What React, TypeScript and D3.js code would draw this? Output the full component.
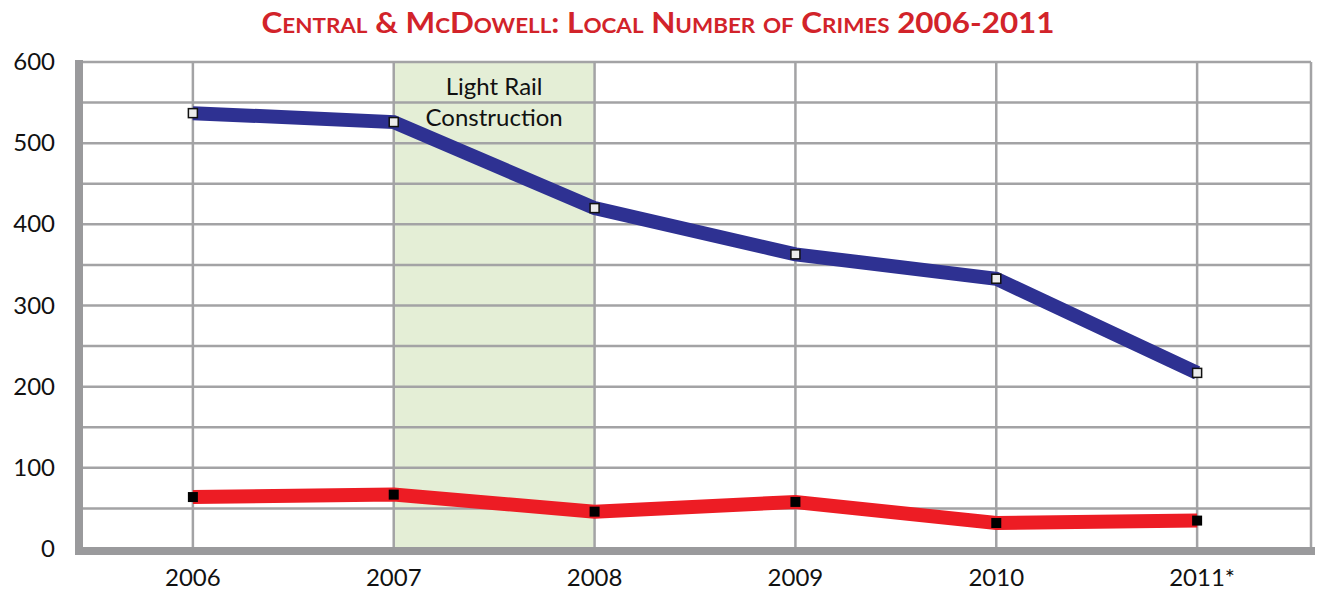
import React from 'react';
import * as d3 from 'd3';

const years = ['2006', '2007', '2008', '2009', '2010', '2011*'];
const totalCrimes = [537, 526, 420, 363, 333, 217];
const localCrimes = [64, 67, 46, 58, 32, 35];
const yTicks = [0, 100, 200, 300, 400, 500, 600];
const gridValues = [50, 100, 150, 200, 250, 300, 350, 400, 450, 500, 550, 600];
const shadeFrom = '2007';
const shadeTo = '2008';
const shadeLabel = ['Light Rail', 'Construction'];
const title = 'Central & McDowell: Local Number of Crimes 2006-2011';

const W = 1319;
const H = 592;
const left = 79;
const right = 1311;
const top = 62;
const bottom = 549;

const GRID = '#a3a3a5';
const AXIS = '#9a9a9c';
const FONT = 'Lato, "Open Sans", sans-serif';

export default function App() {
  const x = d3.scalePoint<string>().domain(years).range([left, right]).padding(0.567);
  const y = d3.scaleLinear().domain([0, 600]).range([bottom, top]);

  const line = d3.line<number>()
    .x((_, i) => x(years[i]) as number)
    .y(d => y(d));

  const shadeX0 = x(shadeFrom) as number;
  const shadeX1 = x(shadeTo) as number;

  return (
    <div style={{ position: 'absolute', left: 0, top: 0 }}>
      <svg width={W} height={H} style={{ display: 'block', background: '#fff' }}>
        <text
          x={658}
          y={33}
          textAnchor="middle"
          fill="#d2232a"
          fontFamily={FONT}
          fontWeight="bold"
          fontSize={28}
          style={{ fontVariant: 'small-caps' }}
          textLength={793}
          lengthAdjust="spacingAndGlyphs"
        >
          {title}
        </text>

        {/* shaded construction period */}
        <rect x={shadeX0} y={top} width={shadeX1 - shadeX0} height={bottom - top} fill="#e4eed6" />

        {/* grid */}
        {gridValues.map(v => (
          <line key={'h' + v} x1={left} x2={right} y1={y(v)} y2={y(v)} stroke={GRID} strokeWidth={2.5} />
        ))}
        {years.map(yr => (
          <line key={'v' + yr} x1={x(yr)} x2={x(yr)} y1={top} y2={bottom} stroke={GRID} strokeWidth={2.5} />
        ))}
        <line x1={right} x2={right} y1={top} y2={bottom} stroke={GRID} strokeWidth={2.5} />

        {/* annotation */}
        {shadeLabel.map((t, i) => (
          <text
            key={t}
            x={(shadeX0 + shadeX1) / 2}
            y={95 + i * 31}
            textAnchor="middle"
            fontFamily={FONT}
            fontSize={24}
            fill="#111"
          >
            {t}
          </text>
        ))}

        {/* axes */}
        <line x1={left} x2={left} y1={60} y2={555} stroke={AXIS} strokeWidth={8} />
        <line x1={75} x2={1315} y1={551} y2={551} stroke={AXIS} strokeWidth={8} />

        {/* series */}
        <path d={line(totalCrimes) || ''} fill="none" stroke="#2e3192" strokeWidth={14} />
        <path d={line(localCrimes) || ''} fill="none" stroke="#ed1c24" strokeWidth={14} />

        {totalCrimes.map((v, i) => (
          <rect
            key={'t' + i}
            x={(x(years[i]) as number) - 4.5}
            y={y(v) - 4.5}
            width={9}
            height={9}
            fill="#ececec"
            stroke="#111"
            strokeWidth={1.5}
          />
        ))}
        {localCrimes.map((v, i) => (
          <rect
            key={'l' + i}
            x={(x(years[i]) as number) - 5}
            y={y(v) - 5}
            width={10}
            height={10}
            fill="#000"
          />
        ))}

        {/* tick labels */}
        {yTicks.map(v => (
          <text
            key={'yl' + v}
            x={55}
            y={y(v) + 8}
            textAnchor="end"
            fontFamily={FONT}
            fontSize={24}
            fill="#111"
          >
            {v}
          </text>
        ))}
        {years.map(yr => (
          <text
            key={'xl' + yr}
            x={(x(yr) as number) + (yr.endsWith('*') ? 5 : 0)}
            y={586}
            textAnchor="middle"
            fontFamily={FONT}
            fontSize={24}
            fill="#111"
          >
            {yr}
          </text>
        ))}
      </svg>
    </div>
  );
}
